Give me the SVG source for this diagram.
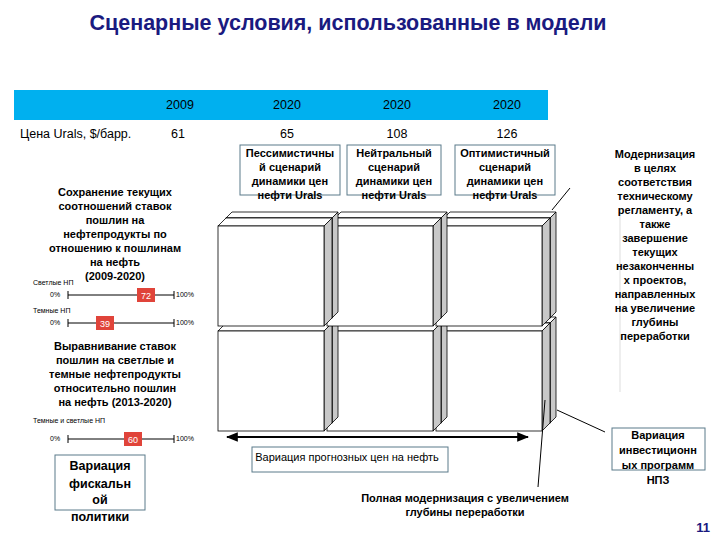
<svg xmlns="http://www.w3.org/2000/svg" width="720" height="540" viewBox="0 0 720 540">
<defs>
<style>
text{font-family:"Liberation Sans",Arial,sans-serif;fill:#000}
.b{font-weight:bold;font-size:11px;text-anchor:middle}
.t{font-size:12.5px;text-anchor:middle}
.s{font-size:7px}
.f{fill:#fff;stroke:#000;stroke-width:0.8}
.g{fill:#c8c8c8;stroke:#000;stroke-width:0.8}
.bx{fill:#fff;stroke:#5a7a8a;stroke-width:1}
.ln{stroke:#000;stroke-width:1;fill:none}
</style>
<marker id="ah" viewBox="0 0 10 10" refX="9" refY="5" markerWidth="6" markerHeight="6" orient="auto-start-reverse"><path d="M0,1L10,5L0,9z" fill="#000"/></marker>
<g id="cube">
<path class="f" d="M8,-8h106l6,-6h-106z"/><path class="g" d="M114,-8l6,-6v100l-6,6z"/><rect class="f" x="8" y="-8" width="106" height="100"/>
<path class="f" d="M0,0h106l8,-8h-106z"/><path class="g" d="M106,0l8,-8v100l-8,8z"/><rect class="f" x="0" y="0" width="106" height="100"/>
</g>
</defs>
<rect width="720" height="540" fill="#fff"/>
<text x="348" y="30" style="font-size:21.5px;font-weight:bold;fill:#1a1a80;text-anchor:middle">Сценарные условия, использованные в модели</text>
<g id="table">
<rect x="14" y="90" width="534" height="30" fill="#00b0ef"/>
<g class="t"><text x="180" y="109">2009</text><text x="287" y="109">2020</text><text x="397" y="109">2020</text><text x="507" y="109">2020</text>
<text x="178" y="138">61</text><text x="287" y="138">65</text><text x="397" y="138">108</text><text x="507" y="138">126</text></g>
<text x="20" y="138" style="font-size:12.5px">Цена Urals, $/барр.</text>
</g>
<g id="cubes">
<use href="#cube" x="436" y="331"/><use href="#cube" x="327" y="331"/><use href="#cube" x="218" y="331"/>
<use href="#cube" x="436" y="226"/><use href="#cube" x="327" y="226"/><use href="#cube" x="218" y="226"/>
</g>
<g id="scen">
<rect class="bx" x="240" y="145" width="100" height="50"/><rect class="bx" x="347" y="145" width="94" height="50"/><rect class="bx" x="455" y="145" width="100" height="50"/>
<g class="b"><text x="290" y="157">Пессимистичны</text><text x="290" y="171">й сценарий</text><text x="290" y="185">динамики цен</text><text x="290" y="199">нефти Urals</text>
<text x="394" y="157">Нейтральный</text><text x="394" y="171">сценарий</text><text x="394" y="185">динамики цен</text><text x="394" y="199">нефти Urals</text>
<text x="505" y="157">Оптимистичный</text><text x="505" y="171">сценарий</text><text x="505" y="185">динамики цен</text><text x="505" y="199">нефти Urals</text></g>
</g>
<g id="left">
<g class="b"><text x="115" y="196">Сохранение текущих</text><text x="115" y="210">соотношений ставок</text><text x="115" y="224">пошлин на</text><text x="115" y="238">нефтепродукты по</text><text x="115" y="252">отношению к пошлинам</text><text x="115" y="266">на нефть</text><text x="115" y="280">(2009-2020)</text>
<text x="115" y="350">Выравнивание ставок</text><text x="115" y="364">пошлин на светлые и</text><text x="115" y="378">темные нефтепродукты</text><text x="115" y="392">относительно пошлин</text><text x="115" y="406">на нефть (2013-2020)</text></g>
<text class="s" x="33" y="285">Светлые НП</text><text class="s" x="33" y="313">Темные НП</text><text class="s" x="33" y="423">Темные и светлые НП</text>
<g class="s"><text x="50" y="297">0%</text><text x="176" y="297">100%</text><text x="50" y="325">0%</text><text x="176" y="325">100%</text><text x="50" y="441">0%</text><text x="176" y="441">100%</text></g>
<path class="ln" d="M68,295H174M68,291v8M174,291v8M68,323H174M68,319v8M174,319v8M68,439H174M68,435v8M174,435v8"/>
<g style="font-size:9px;fill:#fff;text-anchor:middle">
<rect x="137" y="288" width="18" height="14" fill="#e0443a"/><text x="146" y="299" style="fill:#fff">72</text>
<rect x="96" y="316" width="18" height="14" fill="#e0443a"/><text x="105" y="327" style="fill:#fff">39</text>
<rect x="124" y="432" width="18" height="14" fill="#e0443a"/><text x="133" y="443" style="fill:#fff">60</text></g>
<rect class="bx" x="55" y="455" width="90" height="55"/>
<g class="b" style="font-size:12.5px"><text x="100" y="470">Вариация</text><text x="100" y="488">фискальн</text><text x="100" y="504">ой</text><text x="100" y="521">политики</text></g>
</g>
<g id="connectors">
<path class="ln" d="M227,437H528" marker-start="url(#ah)" marker-end="url(#ah)" style="stroke-width:2"/>
<path d="M620,210V392" stroke="#ddd" stroke-width="1"/>
<path class="ln" d="M570,188L552,210M545,400L538,487M605,432L557,410"/>
</g>
<g id="labels">
<rect class="bx" x="252" y="447" width="196" height="25"/>
<text x="347" y="461" style="font-size:11px;text-anchor:middle">Вариация прогнозных цен на нефть</text>
<g class="b"><text x="655" y="158">Модернизация</text><text x="655" y="172">в целях</text><text x="655" y="186">соответствия</text><text x="655" y="200">техническому</text><text x="655" y="214">регламенту, а</text><text x="655" y="228">также</text><text x="655" y="242">завершение</text><text x="655" y="256">текущих</text><text x="655" y="270">незаконченны</text><text x="655" y="284">х проектов,</text><text x="655" y="298">направленных</text><text x="655" y="312">на увеличение</text><text x="655" y="326">глубины</text><text x="655" y="340">переработки</text>
<text x="465" y="502">Полная модернизация с увеличением</text><text x="465" y="516">глубины переработки</text></g>
<rect class="bx" x="612" y="428" width="93" height="42"/>
<g class="b"><text x="658" y="439">Вариация</text><text x="658" y="454">инвестиционн</text><text x="658" y="469">ых программ</text><text x="658" y="484">НПЗ</text></g>
<text x="703" y="532" style="font-size:13px;font-weight:bold;fill:#1a1a80;text-anchor:middle">11</text>
</g>
</svg>
